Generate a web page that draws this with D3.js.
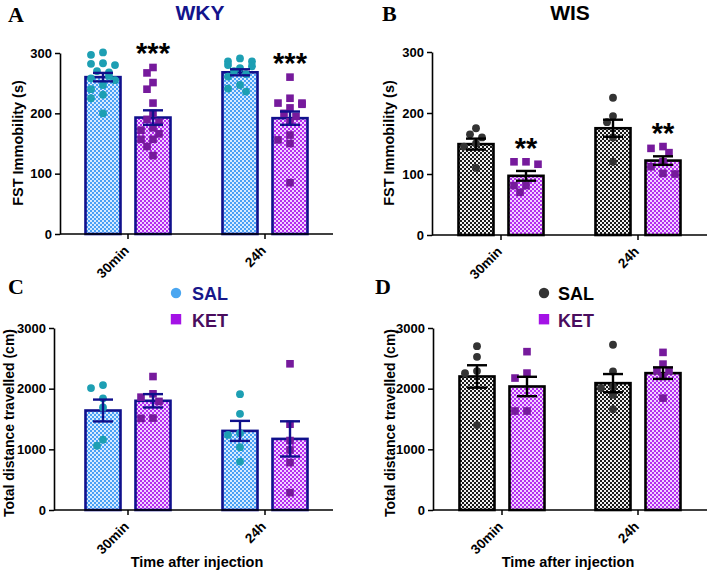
<!DOCTYPE html>
<html><head><meta charset="utf-8">
<script src="https://cdn.jsdelivr.net/npm/d3@7"></script>
<style>
html,body{margin:0;padding:0;background:#fff;}
svg{display:block;}
text{font-family:"Liberation Sans",Arial,sans-serif;font-weight:bold;}
</style></head>
<body>
<svg id="chart" width="709" height="572"></svg>
<script>
// ---------- DATA ----------
const categories = ["30min", "24h"];
const groups = ["SAL", "KET"];

// A: WKY forced swim test immobility (s)
const wkyFstSAL = [
  [301, 297, 283, 282, 280, 270, 268, 262, 258, 255, 247, 240, 231, 225, 200],
  [291, 286, 286, 280, 278, 275, 270, 265, 261, 247, 241, 236]
];
const wkyFstKET = [
  [276, 267, 251, 240, 217, 200, 190, 185, 176, 172, 166, 157, 157, 145, 130],
  [260, 225, 217, 217, 215, 209, 200, 195, 186, 164, 156, 150, 85]
];
const wkyFstMeanSAL = [260, 268], wkyFstSemSAL = [7, 5];
const wkyFstMeanKET = [193, 192], wkyFstSemKET = [12, 11];
const wkyFstSig = ["***", "***"];

// B: WIS forced swim test immobility (s)
const wisFstSAL = [
  [175, 165, 160, 150, 145, 110],
  [225, 195, 185, 160, 120]
];
const wisFstKET = [
  [120, 120, 116, 81, 81, 70],
  [145, 142, 135, 120, 112, 101, 100]
];
const wisFstMeanSAL = [149, 175], wisFstSemSAL = [9, 14];
const wisFstMeanKET = [97, 122], wisFstSemKET = [8, 7];
const wisFstSig = ["**", "**"];

// C: WKY total distance travelled (cm)
const wkyDistSAL = [
  [2060, 2010, 1840, 1690, 1160, 1060],
  [1910, 1585, 1266, 1238, 1035, 798]
];
const wkyDistKET = [
  [2200, 1915, 1860, 1790, 1515, 1510],
  [2410, 1414, 1145, 990, 781, 286]
];
const wkyDistMeanSAL = [1640, 1304], wkyDistSemSAL = [180, 165];
const wkyDistMeanKET = [1800, 1172], wkyDistSemKET = [110, 290];

// D: WIS total distance travelled (cm)
const wisDistSAL = [
  [2700, 2525, 2290, 2255, 1400],
  [2724, 2284, 2036, 2009, 1899, 1662]
];
const wisDistKET = [
  [2610, 2257, 2175, 1631, 1631],
  [2598, 2405, 2300, 2300, 2201, 1844]
];
const wisDistMeanSAL = [2201, 2091], wisDistSemSAL = [185, 150];
const wisDistMeanKET = [2036, 2256], wisDistSemKET = [160, 95];

const fstTicks = [0, 100, 200, 300];
const distTicks = [0, 1000, 2000, 3000];

// ---------- DRAWING ----------
const svg = d3.select("#chart");
const defs = svg.append("defs");
function checker(id, a, b) {
  const p = defs.append("pattern").attr("id", id).attr("patternUnits", "userSpaceOnUse")
    .attr("width", 4).attr("height", 4);
  p.append("rect").attr("width", 4).attr("height", 4).attr("fill", b);
  p.append("rect").attr("width", 2).attr("height", 2).attr("fill", a);
  p.append("rect").attr("x", 2).attr("y", 2).attr("width", 2).attr("height", 2).attr("fill", a);
}
checker("pBlue", "#4aa0f5", "#d6ebff");
checker("pMag", "#b42cf0", "#f2d4ff");
checker("pGray", "#1a1a1a", "#f0f0f0");

const styles = {
  wky: { SAL: { fill: "url(#pBlue)", pt: "#1d9fb3" }, KET: { fill: "url(#pMag)", pt: "#761a9c" }, line: "#10108c" },
  wis: { SAL: { fill: "url(#pGray)", pt: "#333333" }, KET: { fill: "url(#pMag)", pt: "#761a9c" }, line: "#000000" }
};

function swarm(vals, y, d, maxOff) {
  const placed = [];
  const order = vals.map((v, i) => i).sort((a, b) => vals[b] - vals[a]);
  const out = new Array(vals.length);
  const cands = [0];
  for (let k = 1; k <= 6; k++) { cands.push(-k * d * 0.75, k * d * 0.75); }
  order.forEach(i => {
    const py = y(vals[i]);
    let best = null;
    for (const c of cands) {
      if (Math.abs(c) > maxOff) continue;
      if (placed.every(p => Math.hypot(p.x - c, p.y - py) >= d)) { best = c; break; }
    }
    if (best === null) best = cands[(placed.length % 5)] || 0;
    placed.push({ x: best, y: py });
    out[i] = best;
  });
  return out;
}

function panel(cfg) {
  const st = styles[cfg.strain];
  const g = svg.append("g");
  const x = d3.scaleBand().domain(categories).range(cfg.xRange);
  const sub = d3.scalePoint().domain(groups).range([-25, 25]);
  const barW = 35;
  const y = d3.scaleLinear().domain([0, cfg.yMax]).range([cfg.yBottom, cfg.yTop]);

  const series = [
    { key: "SAL", vals: cfg.sal, mean: cfg.meanSal, sem: cfg.semSal },
    { key: "KET", vals: cfg.ket, mean: cfg.meanKet, sem: cfg.semKet }
  ];

  series.forEach(s => {
    categories.forEach((c, ci) => {
      const cx = x(c) + x.bandwidth() / 2 + sub(s.key);
      g.append("rect").attr("x", cx - barW / 2).attr("y", y(s.mean[ci]))
        .attr("width", barW).attr("height", y(0) - y(s.mean[ci]))
        .attr("fill", st[s.key].fill).attr("stroke", st.line).attr("stroke-width", 2.6);
    });
  });
  series.forEach(s => {
    categories.forEach((c, ci) => {
      const cx = x(c) + x.bandwidth() / 2 + sub(s.key);
      const offs = swarm(s.vals[ci], y, 8, 16);
      s.vals[ci].forEach((v, i) => {
        if (s.key === "SAL") {
          g.append("circle").attr("cx", cx + offs[i]).attr("cy", y(v)).attr("r", 3.9).attr("fill", st.SAL.pt);
        } else {
          g.append("rect").attr("x", cx + offs[i] - 3.8).attr("y", y(v) - 3.8).attr("width", 7.6).attr("height", 7.6).attr("fill", st.KET.pt);
        }
      });
    });
  });
  series.forEach(s => {
    categories.forEach((c, ci) => {
      const cx = x(c) + x.bandwidth() / 2 + sub(s.key);
      const lo = y(s.mean[ci] - s.sem[ci]), hi = y(s.mean[ci] + s.sem[ci]);
      const eb = g.append("g").attr("stroke", st.line).attr("stroke-width", 2.4);
      eb.append("line").attr("x1", cx).attr("x2", cx).attr("y1", lo).attr("y2", hi);
      eb.append("line").attr("x1", cx - 10).attr("x2", cx + 10).attr("y1", lo).attr("y2", lo);
      eb.append("line").attr("x1", cx - 10).attr("x2", cx + 10).attr("y1", hi).attr("y2", hi);
    });
  });
  if (cfg.sig) {
    categories.forEach((c, ci) => {
      const cx = x(c) + x.bandwidth() / 2 + sub("KET");
      g.append("text").attr("x", cx).attr("y", y(d3.max(cfg.ket[ci])) - 4)
        .attr("text-anchor", "middle").style("font-size", "29px").attr("fill", "#000").text(cfg.sig[ci]);
    });
  }

  const ya = g.append("g").attr("transform", `translate(${cfg.axisX},0)`)
    .call(d3.axisLeft(y).tickValues(cfg.ticks).tickFormat(d3.format("d")).tickSize(5).tickPadding(3).tickSizeOuter(0));
  ya.selectAll("text").style("font-size", "13px").attr("fill", "#000");
  ya.selectAll("line").attr("stroke-width", 1.5);
  ya.select(".domain").attr("stroke-width", 1.6);

  const xa = g.append("g").attr("transform", `translate(0,${cfg.yBottom})`)
    .call(d3.axisBottom(x).tickSize(5).tickSizeOuter(0));
  xa.select(".domain").remove();
  xa.selectAll("line").attr("stroke-width", 1.5);
  xa.selectAll("text").attr("x", -11).attr("y", 9).attr("dy", "0.35em")
    .attr("transform", "rotate(-45)").style("text-anchor", "end").style("font-size", "13.5px").attr("fill", "#000");
  g.append("line").attr("x1", cfg.axisX).attr("x2", cfg.axisEnd).attr("y1", cfg.yBottom).attr("y2", cfg.yBottom)
    .attr("stroke", "#000").attr("stroke-width", 1.6);

  g.append("text").attr("transform", `translate(${cfg.ylabX},${cfg.ylabY}) rotate(-90)`)
    .attr("text-anchor", "middle").style("font-size", cfg.ylabSize).attr("fill", "#000").text(cfg.ylabel);
  if (cfg.xlabel) {
    g.append("text").attr("x", cfg.xlabX).attr("y", 567).attr("text-anchor", "middle")
      .style("font-size", "14.5px").attr("fill", "#000").text(cfg.xlabel);
  }
  g.append("text").attr("x", cfg.letterX).attr("y", cfg.letterY)
    .style("font-family", "'Liberation Serif','Times New Roman',serif").style("font-size", "22px").attr("fill", "#000")
    .text(cfg.letter);
  if (cfg.title) {
    g.append("text").attr("x", cfg.titleX).attr("y", 20).attr("text-anchor", "middle")
      .style("font-size", "21px").attr("fill", cfg.titleColor).text(cfg.title);
  }
  if (cfg.legend) {
    const L = cfg.legend;
    g.append("circle").attr("cx", L.x).attr("cy", 293).attr("r", 5.2).attr("fill", L.salColor);
    g.append("rect").attr("x", L.x - 5.2).attr("y", 314).attr("width", 10.4).attr("height", 10.4).attr("fill", "#a412e6");
    g.append("text").attr("x", L.tx).attr("y", 300).style("font-size", "18px").attr("fill", L.salText).text("SAL");
    g.append("text").attr("x", L.tx).attr("y", 327).style("font-size", "18px").attr("fill", L.ketText).text("KET");
  }
}

panel({ strain: "wky", xRange: [59.5, 333.5], axisX: 60, axisEnd: 333, yTop: 53, yBottom: 234, yMax: 300, ticks: fstTicks,
  sal: wkyFstSAL, ket: wkyFstKET, meanSal: wkyFstMeanSAL, semSal: wkyFstSemSAL, meanKet: wkyFstMeanKET, semKet: wkyFstSemKET,
  sig: wkyFstSig, ylabel: "FST Immobility (s)", ylabX: 23, ylabY: 143, ylabSize: "14.5px",
  letter: "A", letterX: 8, letterY: 22, title: "WKY", titleX: 200, titleColor: "#14148c" });

panel({ strain: "wis", xRange: [432.5, 706.5], axisX: 432, axisEnd: 707, yTop: 52, yBottom: 235, yMax: 300, ticks: fstTicks,
  sal: wisFstSAL, ket: wisFstKET, meanSal: wisFstMeanSAL, semSal: wisFstSemSAL, meanKet: wisFstMeanKET, semKet: wisFstSemKET,
  sig: wisFstSig, ylabel: "FST Immobility (s)", ylabX: 394, ylabY: 143, ylabSize: "14.5px",
  letter: "B", letterX: 382, letterY: 21, title: "WIS", titleX: 570, titleColor: "#000" });

panel({ strain: "wky", xRange: [59.5, 333.5], axisX: 54, axisEnd: 333, yTop: 328, yBottom: 510, yMax: 3000, ticks: distTicks,
  sal: wkyDistSAL, ket: wkyDistKET, meanSal: wkyDistMeanSAL, semSal: wkyDistSemSAL, meanKet: wkyDistMeanKET, semKet: wkyDistSemKET,
  ylabel: "Total distance travelled (cm)", ylabX: 14, ylabY: 423, ylabSize: "14px",
  xlabel: "Time after injection", xlabX: 197,
  letter: "C", letterX: 8, letterY: 294,
  legend: { x: 176, tx: 192, salColor: "#4aa6f0", salText: "#17178a", ketText: "#4a0c5e" } });

panel({ strain: "wis", xRange: [434, 706], axisX: 433, axisEnd: 707, yTop: 328, yBottom: 510, yMax: 3000, ticks: distTicks,
  sal: wisDistSAL, ket: wisDistKET, meanSal: wisDistMeanSAL, semSal: wisDistSemSAL, meanKet: wisDistMeanKET, semKet: wisDistSemKET,
  ylabel: "Total distance travelled (cm)", ylabX: 395, ylabY: 423, ylabSize: "14px",
  xlabel: "Time after injection", xlabX: 568,
  letter: "D", letterX: 375, letterY: 294,
  legend: { x: 544, tx: 558, salColor: "#333333", salText: "#000", ketText: "#4a0c5e" } });
</script>
</body></html>
